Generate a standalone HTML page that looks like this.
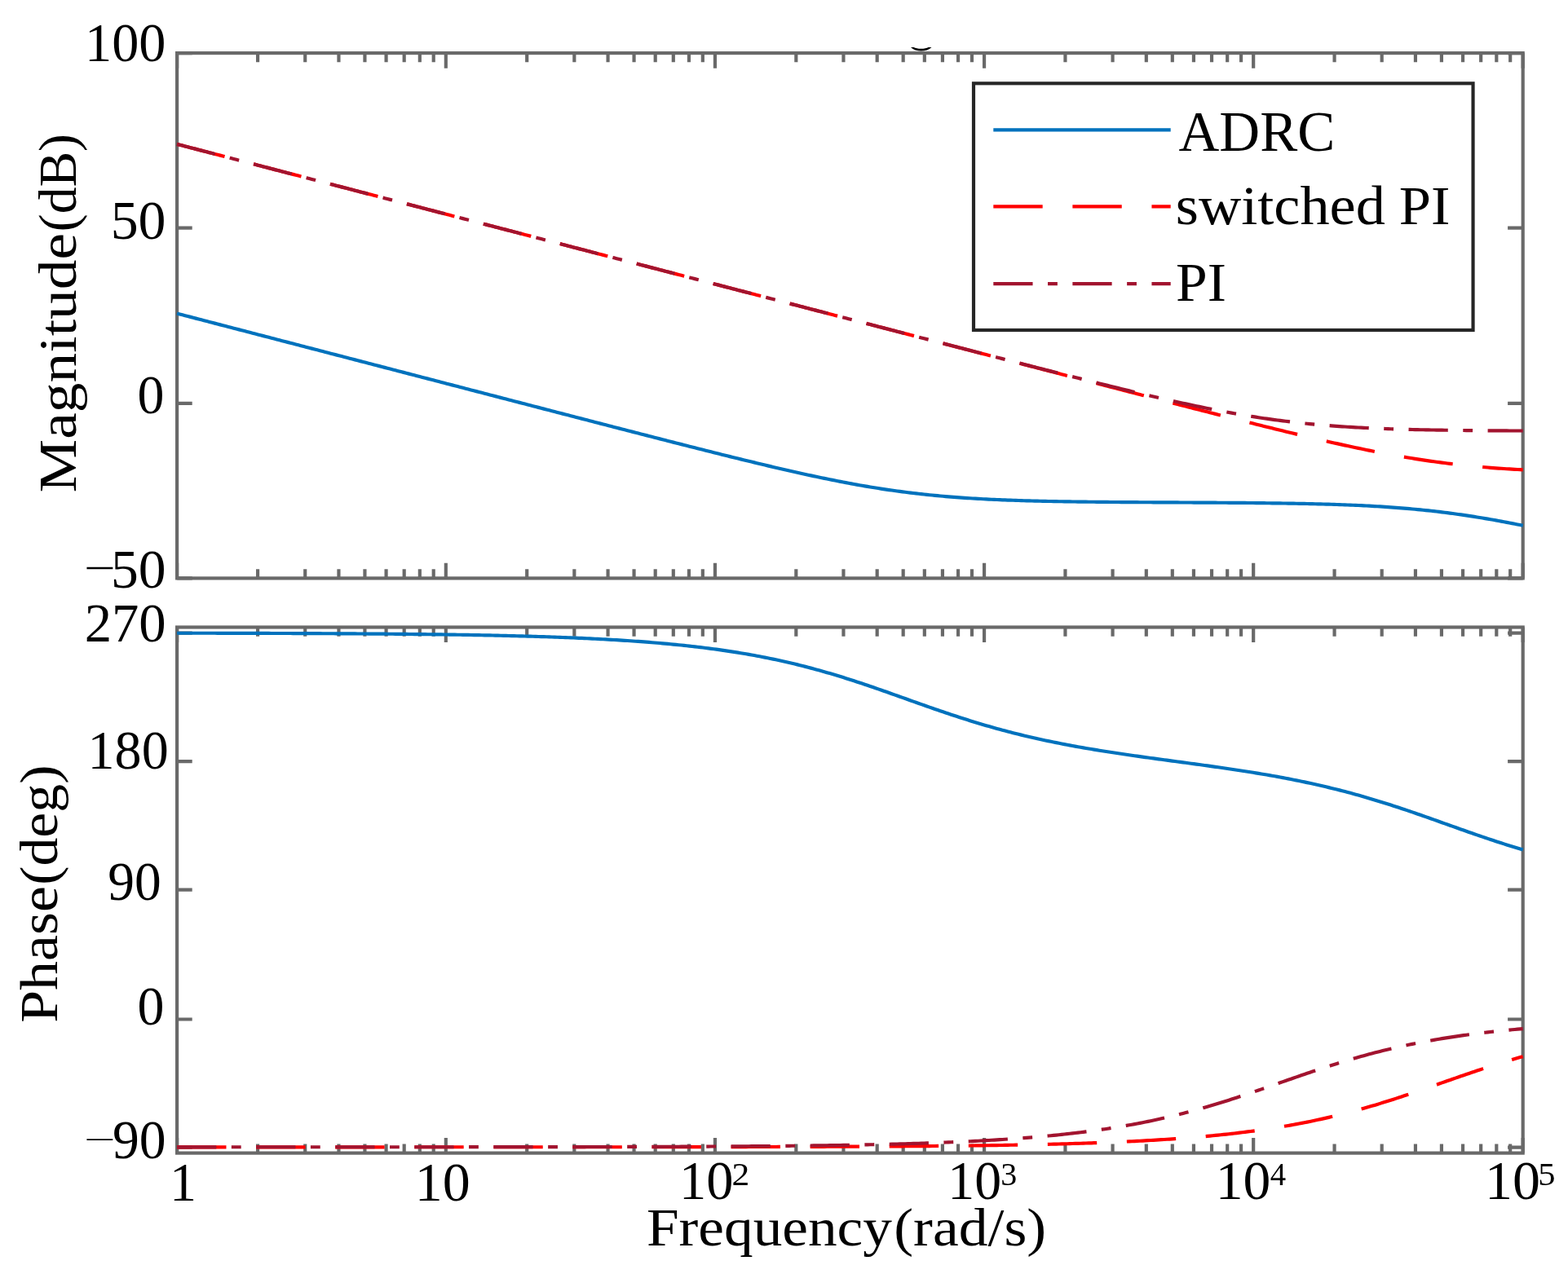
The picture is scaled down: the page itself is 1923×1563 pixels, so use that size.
<!DOCTYPE html>
<html lang="en"><head><meta charset="utf-8"><title>Bode plot</title>
<style>html,body{margin:0;padding:0;background:#fff}body{width:1923px;height:1563px;overflow:hidden}svg{display:block}text{font-family:"Liberation Serif","DejaVu Serif",serif;fill:#000}</style></head><body>
<svg width="1923" height="1563" viewBox="0 0 1923 1563">
<rect width="1923" height="1563" fill="#fff"/>
<path d="M1117,57.9 L1120.6,57.9 C1124.5,60.3 1134.8,60.3 1138.6,57.9 L1142.5,57.9 C1136.5,63.9 1123,63.9 1117,57.9 Z" fill="#000"/>
<g fill="none" stroke="#696969" stroke-width="4.17" stroke-linecap="butt">
<rect x="217.10" y="65.10" width="1650.60" height="644.30"/>
<path d="M217.10,65.10 v18.60 M217.10,709.40 v-18.60 M316.08,65.10 v11.20 M316.08,709.40 v-11.20 M374.21,65.10 v11.20 M374.21,709.40 v-11.20 M415.45,65.10 v11.20 M415.45,709.40 v-11.20 M447.44,65.10 v11.20 M447.44,709.40 v-11.20 M473.58,65.10 v11.20 M473.58,709.40 v-11.20 M495.68,65.10 v11.20 M495.68,709.40 v-11.20 M514.83,65.10 v11.20 M514.83,709.40 v-11.20 M531.71,65.10 v11.20 M531.71,709.40 v-11.20 M546.82,65.10 v18.60 M546.82,709.40 v-18.60 M646.20,65.10 v11.20 M646.20,709.40 v-11.20 M704.33,65.10 v11.20 M704.33,709.40 v-11.20 M745.57,65.10 v11.20 M745.57,709.40 v-11.20 M777.56,65.10 v11.20 M777.56,709.40 v-11.20 M803.70,65.10 v11.20 M803.70,709.40 v-11.20 M825.80,65.10 v11.20 M825.80,709.40 v-11.20 M844.95,65.10 v11.20 M844.95,709.40 v-11.20 M861.83,65.10 v11.20 M861.83,709.40 v-11.20 M876.94,65.10 v18.60 M876.94,709.40 v-18.60 M976.32,65.10 v11.20 M976.32,709.40 v-11.20 M1034.45,65.10 v11.20 M1034.45,709.40 v-11.20 M1075.69,65.10 v11.20 M1075.69,709.40 v-11.20 M1107.68,65.10 v11.20 M1107.68,709.40 v-11.20 M1133.82,65.10 v11.20 M1133.82,709.40 v-11.20 M1155.92,65.10 v11.20 M1155.92,709.40 v-11.20 M1175.07,65.10 v11.20 M1175.07,709.40 v-11.20 M1191.95,65.10 v11.20 M1191.95,709.40 v-11.20 M1207.06,65.10 v18.60 M1207.06,709.40 v-18.60 M1306.44,65.10 v11.20 M1306.44,709.40 v-11.20 M1364.57,65.10 v11.20 M1364.57,709.40 v-11.20 M1405.81,65.10 v11.20 M1405.81,709.40 v-11.20 M1437.80,65.10 v11.20 M1437.80,709.40 v-11.20 M1463.94,65.10 v11.20 M1463.94,709.40 v-11.20 M1486.04,65.10 v11.20 M1486.04,709.40 v-11.20 M1505.19,65.10 v11.20 M1505.19,709.40 v-11.20 M1522.07,65.10 v11.20 M1522.07,709.40 v-11.20 M1537.18,65.10 v18.60 M1537.18,709.40 v-18.60 M1636.56,65.10 v11.20 M1636.56,709.40 v-11.20 M1694.69,65.10 v11.20 M1694.69,709.40 v-11.20 M1735.93,65.10 v11.20 M1735.93,709.40 v-11.20 M1767.92,65.10 v11.20 M1767.92,709.40 v-11.20 M1794.06,65.10 v11.20 M1794.06,709.40 v-11.20 M1816.16,65.10 v11.20 M1816.16,709.40 v-11.20 M1835.31,65.10 v11.20 M1835.31,709.40 v-11.20 M1852.19,65.10 v11.20 M1852.19,709.40 v-11.20 M1867.70,65.10 v18.60 M1867.70,709.40 v-18.60 M217.10,65.10 h18.60 M1867.70,65.10 h-18.60 M217.10,279.60 h18.60 M1867.70,279.60 h-18.60 M217.10,494.90 h18.60 M1867.70,494.90 h-18.60 M217.10,709.40 h18.60 M1867.70,709.40 h-18.60"/>
</g>
<g fill="none" stroke="#696969" stroke-width="4.17" stroke-linecap="butt">
<rect x="217.10" y="769.50" width="1650.60" height="645.10"/>
<path d="M217.10,769.50 v18.60 M217.10,1414.60 v-18.60 M316.08,769.50 v11.20 M316.08,1414.60 v-11.20 M374.21,769.50 v11.20 M374.21,1414.60 v-11.20 M415.45,769.50 v11.20 M415.45,1414.60 v-11.20 M447.44,769.50 v11.20 M447.44,1414.60 v-11.20 M473.58,769.50 v11.20 M473.58,1414.60 v-11.20 M495.68,769.50 v11.20 M495.68,1414.60 v-11.20 M514.83,769.50 v11.20 M514.83,1414.60 v-11.20 M531.71,769.50 v11.20 M531.71,1414.60 v-11.20 M546.82,769.50 v18.60 M546.82,1414.60 v-18.60 M646.20,769.50 v11.20 M646.20,1414.60 v-11.20 M704.33,769.50 v11.20 M704.33,1414.60 v-11.20 M745.57,769.50 v11.20 M745.57,1414.60 v-11.20 M777.56,769.50 v11.20 M777.56,1414.60 v-11.20 M803.70,769.50 v11.20 M803.70,1414.60 v-11.20 M825.80,769.50 v11.20 M825.80,1414.60 v-11.20 M844.95,769.50 v11.20 M844.95,1414.60 v-11.20 M861.83,769.50 v11.20 M861.83,1414.60 v-11.20 M876.94,769.50 v18.60 M876.94,1414.60 v-18.60 M976.32,769.50 v11.20 M976.32,1414.60 v-11.20 M1034.45,769.50 v11.20 M1034.45,1414.60 v-11.20 M1075.69,769.50 v11.20 M1075.69,1414.60 v-11.20 M1107.68,769.50 v11.20 M1107.68,1414.60 v-11.20 M1133.82,769.50 v11.20 M1133.82,1414.60 v-11.20 M1155.92,769.50 v11.20 M1155.92,1414.60 v-11.20 M1175.07,769.50 v11.20 M1175.07,1414.60 v-11.20 M1191.95,769.50 v11.20 M1191.95,1414.60 v-11.20 M1207.06,769.50 v18.60 M1207.06,1414.60 v-18.60 M1306.44,769.50 v11.20 M1306.44,1414.60 v-11.20 M1364.57,769.50 v11.20 M1364.57,1414.60 v-11.20 M1405.81,769.50 v11.20 M1405.81,1414.60 v-11.20 M1437.80,769.50 v11.20 M1437.80,1414.60 v-11.20 M1463.94,769.50 v11.20 M1463.94,1414.60 v-11.20 M1486.04,769.50 v11.20 M1486.04,1414.60 v-11.20 M1505.19,769.50 v11.20 M1505.19,1414.60 v-11.20 M1522.07,769.50 v11.20 M1522.07,1414.60 v-11.20 M1537.18,769.50 v18.60 M1537.18,1414.60 v-18.60 M1636.56,769.50 v11.20 M1636.56,1414.60 v-11.20 M1694.69,769.50 v11.20 M1694.69,1414.60 v-11.20 M1735.93,769.50 v11.20 M1735.93,1414.60 v-11.20 M1767.92,769.50 v11.20 M1767.92,1414.60 v-11.20 M1794.06,769.50 v11.20 M1794.06,1414.60 v-11.20 M1816.16,769.50 v11.20 M1816.16,1414.60 v-11.20 M1835.31,769.50 v11.20 M1835.31,1414.60 v-11.20 M1852.19,769.50 v11.20 M1852.19,1414.60 v-11.20 M1867.70,769.50 v18.60 M1867.70,1414.60 v-18.60 M217.10,776.60 h18.60 M1867.70,776.60 h-18.60 M217.10,934.15 h18.60 M1867.70,934.15 h-18.60 M217.10,1091.70 h18.60 M1867.70,1091.70 h-18.60 M217.10,1250.50 h18.60 M1867.70,1250.50 h-18.60 M217.10,1407.55 h18.60 M1867.70,1407.55 h-18.60"/>
</g>
<g>
<path d="M217.10,384.58 L220.41,385.44 L223.72,386.31 L227.02,387.17 L230.33,388.03 L233.64,388.89 L236.95,389.75 L240.25,390.61 L243.56,391.47 L246.87,392.33 L250.18,393.19 L253.49,394.05 L256.79,394.91 L260.10,395.77 L263.41,396.63 L266.72,397.50 L270.03,398.36 L273.33,399.22 L276.64,400.08 L279.95,400.94 L283.26,401.80 L286.56,402.66 L289.87,403.52 L293.18,404.38 L296.49,405.24 L299.80,406.10 L303.10,406.96 L306.41,407.83 L309.72,408.69 L313.03,409.55 L316.33,410.41 L319.64,411.27 L322.95,412.13 L326.26,412.99 L329.57,413.85 L332.87,414.71 L336.18,415.57 L339.49,416.43 L342.80,417.29 L346.10,418.15 L349.41,419.02 L352.72,419.88 L356.03,420.74 L359.34,421.60 L362.64,422.46 L365.95,423.32 L369.26,424.18 L372.57,425.04 L375.88,425.90 L379.18,426.76 L382.49,427.62 L385.80,428.48 L389.11,429.34 L392.41,430.20 L395.72,431.07 L399.03,431.93 L402.34,432.79 L405.65,433.65 L408.95,434.51 L412.26,435.37 L415.57,436.23 L418.88,437.09 L422.18,437.95 L425.49,438.81 L428.80,439.67 L432.11,440.53 L435.42,441.39 L438.72,442.26 L442.03,443.12 L445.34,443.98 L448.65,444.84 L451.95,445.70 L455.26,446.56 L458.57,447.42 L461.88,448.28 L465.19,449.14 L468.49,450.00 L471.80,450.86 L475.11,451.72 L478.42,452.58 L481.73,453.44 L485.03,454.30 L488.34,455.17 L491.65,456.03 L494.96,456.89 L498.26,457.75 L501.57,458.61 L504.88,459.47 L508.19,460.33 L511.50,461.19 L514.80,462.05 L518.11,462.91 L521.42,463.77 L524.73,464.63 L528.03,465.49 L531.34,466.35 L534.65,467.21 L537.96,468.07 L541.27,468.93 L544.57,469.79 L547.88,470.66 L551.19,471.52 L554.50,472.38 L557.81,473.24 L561.11,474.10 L564.42,474.96 L567.73,475.82 L571.04,476.68 L574.34,477.54 L577.65,478.40 L580.96,479.26 L584.27,480.12 L587.58,480.98 L590.88,481.84 L594.19,482.70 L597.50,483.56 L600.81,484.42 L604.11,485.28 L607.42,486.14 L610.73,487.00 L614.04,487.86 L617.35,488.72 L620.65,489.58 L623.96,490.44 L627.27,491.30 L630.58,492.16 L633.88,493.02 L637.19,493.88 L640.50,494.74 L643.81,495.60 L647.12,496.46 L650.42,497.32 L653.73,498.18 L657.04,499.03 L660.35,499.89 L663.66,500.75 L666.96,501.61 L670.27,502.47 L673.58,503.33 L676.89,504.19 L680.19,505.05 L683.50,505.91 L686.81,506.76 L690.12,507.62 L693.43,508.48 L696.73,509.34 L700.04,510.20 L703.35,511.05 L706.66,511.91 L709.96,512.77 L713.27,513.63 L716.58,514.48 L719.89,515.34 L723.20,516.20 L726.50,517.05 L729.81,517.91 L733.12,518.77 L736.43,519.62 L739.73,520.48 L743.04,521.34 L746.35,522.19 L749.66,523.05 L752.97,523.90 L756.27,524.76 L759.58,525.61 L762.89,526.46 L766.20,527.32 L769.51,528.17 L772.81,529.02 L776.12,529.88 L779.43,530.73 L782.74,531.58 L786.04,532.43 L789.35,533.28 L792.66,534.13 L795.97,534.98 L799.28,535.83 L802.58,536.68 L805.89,537.53 L809.20,538.38 L812.51,539.23 L815.81,540.07 L819.12,540.92 L822.43,541.76 L825.74,542.61 L829.05,543.45 L832.35,544.30 L835.66,545.14 L838.97,545.98 L842.28,546.82 L845.58,547.66 L848.89,548.50 L852.20,549.34 L855.51,550.17 L858.82,551.01 L862.12,551.84 L865.43,552.68 L868.74,553.51 L872.05,554.34 L875.36,555.17 L878.66,556.00 L881.97,556.82 L885.28,557.65 L888.59,558.47 L891.89,559.29 L895.20,560.11 L898.51,560.93 L901.82,561.75 L905.13,562.56 L908.43,563.37 L911.74,564.18 L915.05,564.99 L918.36,565.79 L921.66,566.60 L924.97,567.40 L928.28,568.19 L931.59,568.99 L934.90,569.78 L938.20,570.57 L941.51,571.35 L944.82,572.14 L948.13,572.92 L951.44,573.69 L954.74,574.46 L958.05,575.23 L961.36,576.00 L964.67,576.76 L967.97,577.51 L971.28,578.26 L974.59,579.01 L977.90,579.75 L981.21,580.49 L984.51,581.23 L987.82,581.95 L991.13,582.68 L994.44,583.39 L997.74,584.10 L1001.05,584.81 L1004.36,585.51 L1007.67,586.20 L1010.98,586.89 L1014.28,587.57 L1017.59,588.25 L1020.90,588.91 L1024.21,589.57 L1027.51,590.23 L1030.82,590.87 L1034.13,591.51 L1037.44,592.14 L1040.75,592.77 L1044.05,593.38 L1047.36,593.99 L1050.67,594.59 L1053.98,595.18 L1057.29,595.76 L1060.59,596.33 L1063.90,596.89 L1067.21,597.45 L1070.52,597.99 L1073.82,598.53 L1077.13,599.06 L1080.44,599.57 L1083.75,600.08 L1087.06,600.58 L1090.36,601.07 L1093.67,601.55 L1096.98,602.01 L1100.29,602.47 L1103.59,602.92 L1106.90,603.36 L1110.21,603.79 L1113.52,604.21 L1116.83,604.62 L1120.13,605.02 L1123.44,605.41 L1126.75,605.79 L1130.06,606.16 L1133.36,606.52 L1136.67,606.87 L1139.98,607.21 L1143.29,607.54 L1146.60,607.86 L1149.90,608.18 L1153.21,608.48 L1156.52,608.77 L1159.83,609.06 L1163.14,609.34 L1166.44,609.61 L1169.75,609.87 L1173.06,610.12 L1176.37,610.36 L1179.67,610.60 L1182.98,610.83 L1186.29,611.05 L1189.60,611.26 L1192.91,611.46 L1196.21,611.66 L1199.52,611.85 L1202.83,612.04 L1206.14,612.22 L1209.44,612.39 L1212.75,612.56 L1216.06,612.72 L1219.37,612.87 L1222.68,613.02 L1225.98,613.16 L1229.29,613.30 L1232.60,613.43 L1235.91,613.55 L1239.22,613.68 L1242.52,613.79 L1245.83,613.91 L1249.14,614.01 L1252.45,614.12 L1255.75,614.22 L1259.06,614.31 L1262.37,614.41 L1265.68,614.50 L1268.99,614.58 L1272.29,614.66 L1275.60,614.74 L1278.91,614.82 L1282.22,614.89 L1285.52,614.96 L1288.83,615.02 L1292.14,615.09 L1295.45,615.15 L1298.76,615.21 L1302.06,615.26 L1305.37,615.32 L1308.68,615.37 L1311.99,615.42 L1315.29,615.47 L1318.60,615.51 L1321.91,615.55 L1325.22,615.60 L1328.53,615.64 L1331.83,615.68 L1335.14,615.71 L1338.45,615.75 L1341.76,615.78 L1345.07,615.82 L1348.37,615.85 L1351.68,615.88 L1354.99,615.91 L1358.30,615.94 L1361.60,615.97 L1364.91,615.99 L1368.22,616.02 L1371.53,616.04 L1374.84,616.07 L1378.14,616.09 L1381.45,616.11 L1384.76,616.13 L1388.07,616.15 L1391.37,616.17 L1394.68,616.19 L1397.99,616.21 L1401.30,616.23 L1404.61,616.25 L1407.91,616.27 L1411.22,616.29 L1414.53,616.30 L1417.84,616.32 L1421.14,616.34 L1424.45,616.36 L1427.76,616.37 L1431.07,616.39 L1434.38,616.40 L1437.68,616.42 L1440.99,616.44 L1444.30,616.45 L1447.61,616.47 L1450.92,616.49 L1454.22,616.50 L1457.53,616.52 L1460.84,616.53 L1464.15,616.55 L1467.45,616.57 L1470.76,616.59 L1474.07,616.60 L1477.38,616.62 L1480.69,616.64 L1483.99,616.66 L1487.30,616.68 L1490.61,616.70 L1493.92,616.72 L1497.22,616.74 L1500.53,616.76 L1503.84,616.78 L1507.15,616.80 L1510.46,616.83 L1513.76,616.85 L1517.07,616.87 L1520.38,616.90 L1523.69,616.93 L1526.99,616.95 L1530.30,616.98 L1533.61,617.01 L1536.92,617.04 L1540.23,617.08 L1543.53,617.11 L1546.84,617.14 L1550.15,617.18 L1553.46,617.22 L1556.77,617.26 L1560.07,617.30 L1563.38,617.34 L1566.69,617.38 L1570.00,617.43 L1573.30,617.48 L1576.61,617.53 L1579.92,617.58 L1583.23,617.63 L1586.54,617.69 L1589.84,617.75 L1593.15,617.81 L1596.46,617.87 L1599.77,617.94 L1603.07,618.01 L1606.38,618.08 L1609.69,618.16 L1613.00,618.24 L1616.31,618.32 L1619.61,618.41 L1622.92,618.49 L1626.23,618.59 L1629.54,618.68 L1632.85,618.78 L1636.15,618.89 L1639.46,619.00 L1642.77,619.11 L1646.08,619.23 L1649.38,619.35 L1652.69,619.48 L1656.00,619.61 L1659.31,619.75 L1662.62,619.89 L1665.92,620.04 L1669.23,620.20 L1672.54,620.36 L1675.85,620.52 L1679.15,620.70 L1682.46,620.88 L1685.77,621.06 L1689.08,621.26 L1692.39,621.45 L1695.69,621.66 L1699.00,621.88 L1702.31,622.10 L1705.62,622.33 L1708.92,622.56 L1712.23,622.81 L1715.54,623.06 L1718.85,623.32 L1722.16,623.59 L1725.46,623.87 L1728.77,624.16 L1732.08,624.46 L1735.39,624.76 L1738.70,625.08 L1742.00,625.40 L1745.31,625.73 L1748.62,626.08 L1751.93,626.43 L1755.23,626.79 L1758.54,627.16 L1761.85,627.54 L1765.16,627.93 L1768.47,628.33 L1771.77,628.74 L1775.08,629.17 L1778.39,629.60 L1781.70,630.04 L1785.00,630.49 L1788.31,630.95 L1791.62,631.42 L1794.93,631.90 L1798.24,632.39 L1801.54,632.89 L1804.85,633.40 L1808.16,633.92 L1811.47,634.44 L1814.77,634.98 L1818.08,635.53 L1821.39,636.08 L1824.70,636.65 L1828.01,637.22 L1831.31,637.80 L1834.62,638.40 L1837.93,639.00 L1841.24,639.60 L1844.55,640.22 L1847.85,640.84 L1851.16,641.48 L1854.47,642.12 L1857.78,642.76 L1861.08,643.42 L1864.39,644.08 L1867.70,644.75" fill="none" stroke="#0072BD" stroke-width="4.17" stroke-linejoin="round"/>
<path d="M217.10,176.87 L220.41,177.73 L223.72,178.59 L227.02,179.45 L230.33,180.31 L233.64,181.17 L236.95,182.03 L240.25,182.89 L243.56,183.75 L246.87,184.61 L250.18,185.48 L253.49,186.34 L256.79,187.20 L260.10,188.06 L263.41,188.92 L266.72,189.78 L270.03,190.64 L273.33,191.50 L276.64,192.36 L279.95,193.22 L283.26,194.08 L286.56,194.94 L289.87,195.80 L293.18,196.67 L296.49,197.53 L299.80,198.39 L303.10,199.25 L306.41,200.11 L309.72,200.97 L313.03,201.83 L316.33,202.69 L319.64,203.55 L322.95,204.41 L326.26,205.27 L329.57,206.13 L332.87,206.99 L336.18,207.86 L339.49,208.72 L342.80,209.58 L346.10,210.44 L349.41,211.30 L352.72,212.16 L356.03,213.02 L359.34,213.88 L362.64,214.74 L365.95,215.60 L369.26,216.46 L372.57,217.32 L375.88,218.18 L379.18,219.05 L382.49,219.91 L385.80,220.77 L389.11,221.63 L392.41,222.49 L395.72,223.35 L399.03,224.21 L402.34,225.07 L405.65,225.93 L408.95,226.79 L412.26,227.65 L415.57,228.51 L418.88,229.38 L422.18,230.24 L425.49,231.10 L428.80,231.96 L432.11,232.82 L435.42,233.68 L438.72,234.54 L442.03,235.40 L445.34,236.26 L448.65,237.12 L451.95,237.98 L455.26,238.84 L458.57,239.70 L461.88,240.57 L465.19,241.43 L468.49,242.29 L471.80,243.15 L475.11,244.01 L478.42,244.87 L481.73,245.73 L485.03,246.59 L488.34,247.45 L491.65,248.31 L494.96,249.17 L498.26,250.03 L501.57,250.89 L504.88,251.76 L508.19,252.62 L511.50,253.48 L514.80,254.34 L518.11,255.20 L521.42,256.06 L524.73,256.92 L528.03,257.78 L531.34,258.64 L534.65,259.50 L537.96,260.36 L541.27,261.22 L544.57,262.09 L547.88,262.95 L551.19,263.81 L554.50,264.67 L557.81,265.53 L561.11,266.39 L564.42,267.25 L567.73,268.11 L571.04,268.97 L574.34,269.83 L577.65,270.69 L580.96,271.55 L584.27,272.41 L587.58,273.28 L590.88,274.14 L594.19,275.00 L597.50,275.86 L600.81,276.72 L604.11,277.58 L607.42,278.44 L610.73,279.30 L614.04,280.16 L617.35,281.02 L620.65,281.88 L623.96,282.74 L627.27,283.60 L630.58,284.47 L633.88,285.33 L637.19,286.19 L640.50,287.05 L643.81,287.91 L647.12,288.77 L650.42,289.63 L653.73,290.49 L657.04,291.35 L660.35,292.21 L663.66,293.07 L666.96,293.93 L670.27,294.80 L673.58,295.66 L676.89,296.52 L680.19,297.38 L683.50,298.24 L686.81,299.10 L690.12,299.96 L693.43,300.82 L696.73,301.68 L700.04,302.54 L703.35,303.40 L706.66,304.26 L709.96,305.12 L713.27,305.99 L716.58,306.85 L719.89,307.71 L723.20,308.57 L726.50,309.43 L729.81,310.29 L733.12,311.15 L736.43,312.01 L739.73,312.87 L743.04,313.73 L746.35,314.59 L749.66,315.45 L752.97,316.31 L756.27,317.18 L759.58,318.04 L762.89,318.90 L766.20,319.76 L769.51,320.62 L772.81,321.48 L776.12,322.34 L779.43,323.20 L782.74,324.06 L786.04,324.92 L789.35,325.78 L792.66,326.64 L795.97,327.51 L799.28,328.37 L802.58,329.23 L805.89,330.09 L809.20,330.95 L812.51,331.81 L815.81,332.67 L819.12,333.53 L822.43,334.39 L825.74,335.25 L829.05,336.11 L832.35,336.97 L835.66,337.83 L838.97,338.70 L842.28,339.56 L845.58,340.42 L848.89,341.28 L852.20,342.14 L855.51,343.00 L858.82,343.86 L862.12,344.72 L865.43,345.58 L868.74,346.44 L872.05,347.30 L875.36,348.16 L878.66,349.02 L881.97,349.89 L885.28,350.75 L888.59,351.61 L891.89,352.47 L895.20,353.33 L898.51,354.19 L901.82,355.05 L905.13,355.91 L908.43,356.77 L911.74,357.63 L915.05,358.49 L918.36,359.35 L921.66,360.21 L924.97,361.08 L928.28,361.94 L931.59,362.80 L934.90,363.66 L938.20,364.52 L941.51,365.38 L944.82,366.24 L948.13,367.10 L951.44,367.96 L954.74,368.82 L958.05,369.68 L961.36,370.54 L964.67,371.41 L967.97,372.27 L971.28,373.13 L974.59,373.99 L977.90,374.85 L981.21,375.71 L984.51,376.57 L987.82,377.43 L991.13,378.29 L994.44,379.15 L997.74,380.01 L1001.05,380.87 L1004.36,381.73 L1007.67,382.60 L1010.98,383.46 L1014.28,384.32 L1017.59,385.18 L1020.90,386.04 L1024.21,386.90 L1027.51,387.76 L1030.82,388.62 L1034.13,389.48 L1037.44,390.34 L1040.75,391.20 L1044.05,392.06 L1047.36,392.92 L1050.67,393.78 L1053.98,394.65 L1057.29,395.51 L1060.59,396.37 L1063.90,397.23 L1067.21,398.09 L1070.52,398.95 L1073.82,399.81 L1077.13,400.67 L1080.44,401.53 L1083.75,402.39 L1087.06,403.25 L1090.36,404.11 L1093.67,404.97 L1096.98,405.84 L1100.29,406.70 L1103.59,407.56 L1106.90,408.42 L1110.21,409.28 L1113.52,410.14 L1116.83,411.00 L1120.13,411.86 L1123.44,412.72 L1126.75,413.58 L1130.06,414.44 L1133.36,415.30 L1136.67,416.16 L1139.98,417.02 L1143.29,417.88 L1146.60,418.75 L1149.90,419.61 L1153.21,420.47 L1156.52,421.33 L1159.83,422.19 L1163.14,423.05 L1166.44,423.91 L1169.75,424.77 L1173.06,425.63 L1176.37,426.49 L1179.67,427.35 L1182.98,428.21 L1186.29,429.07 L1189.60,429.93 L1192.91,430.79 L1196.21,431.65 L1199.52,432.51 L1202.83,433.38 L1206.14,434.24 L1209.44,435.10 L1212.75,435.96 L1216.06,436.82 L1219.37,437.68 L1222.68,438.54 L1225.98,439.40 L1229.29,440.26 L1232.60,441.12 L1235.91,441.98 L1239.22,442.84 L1242.52,443.70 L1245.83,444.56 L1249.14,445.42 L1252.45,446.28 L1255.75,447.14 L1259.06,448.00 L1262.37,448.86 L1265.68,449.72 L1268.99,450.58 L1272.29,451.44 L1275.60,452.30 L1278.91,453.16 L1282.22,454.02 L1285.52,454.88 L1288.83,455.74 L1292.14,456.60 L1295.45,457.46 L1298.76,458.32 L1302.06,459.18 L1305.37,460.04 L1308.68,460.90 L1311.99,461.76 L1315.29,462.62 L1318.60,463.47 L1321.91,464.33 L1325.22,465.19 L1328.53,466.05 L1331.83,466.91 L1335.14,467.77 L1338.45,468.63 L1341.76,469.49 L1345.07,470.35 L1348.37,471.20 L1351.68,472.06 L1354.99,472.92 L1358.30,473.78 L1361.60,474.64 L1364.91,475.49 L1368.22,476.35 L1371.53,477.21 L1374.84,478.07 L1378.14,478.92 L1381.45,479.78 L1384.76,480.64 L1388.07,481.49 L1391.37,482.35 L1394.68,483.21 L1397.99,484.06 L1401.30,484.92 L1404.61,485.77 L1407.91,486.63 L1411.22,487.48 L1414.53,488.34 L1417.84,489.19 L1421.14,490.05 L1424.45,490.90 L1427.76,491.76 L1431.07,492.61 L1434.38,493.46 L1437.68,494.31 L1440.99,495.17 L1444.30,496.02 L1447.61,496.87 L1450.92,497.72 L1454.22,498.57 L1457.53,499.42 L1460.84,500.27 L1464.15,501.12 L1467.45,501.97 L1470.76,502.81 L1474.07,503.66 L1477.38,504.51 L1480.69,505.35 L1483.99,506.20 L1487.30,507.04 L1490.61,507.89 L1493.92,508.73 L1497.22,509.57 L1500.53,510.41 L1503.84,511.25 L1507.15,512.09 L1510.46,512.93 L1513.76,513.77 L1517.07,514.60 L1520.38,515.44 L1523.69,516.27 L1526.99,517.11 L1530.30,517.94 L1533.61,518.77 L1536.92,519.60 L1540.23,520.42 L1543.53,521.25 L1546.84,522.07 L1550.15,522.90 L1553.46,523.72 L1556.77,524.54 L1560.07,525.35 L1563.38,526.17 L1566.69,526.98 L1570.00,527.79 L1573.30,528.60 L1576.61,529.41 L1579.92,530.21 L1583.23,531.01 L1586.54,531.81 L1589.84,532.61 L1593.15,533.40 L1596.46,534.19 L1599.77,534.98 L1603.07,535.76 L1606.38,536.55 L1609.69,537.32 L1613.00,538.10 L1616.31,538.87 L1619.61,539.63 L1622.92,540.40 L1626.23,541.16 L1629.54,541.91 L1632.85,542.66 L1636.15,543.41 L1639.46,544.15 L1642.77,544.88 L1646.08,545.61 L1649.38,546.34 L1652.69,547.06 L1656.00,547.77 L1659.31,548.48 L1662.62,549.19 L1665.92,549.88 L1669.23,550.58 L1672.54,551.26 L1675.85,551.94 L1679.15,552.61 L1682.46,553.28 L1685.77,553.93 L1689.08,554.58 L1692.39,555.23 L1695.69,555.86 L1699.00,556.49 L1702.31,557.11 L1705.62,557.72 L1708.92,558.32 L1712.23,558.92 L1715.54,559.51 L1718.85,560.08 L1722.16,560.65 L1725.46,561.21 L1728.77,561.76 L1732.08,562.30 L1735.39,562.84 L1738.70,563.36 L1742.00,563.87 L1745.31,564.38 L1748.62,564.87 L1751.93,565.35 L1755.23,565.83 L1758.54,566.29 L1761.85,566.75 L1765.16,567.19 L1768.47,567.63 L1771.77,568.05 L1775.08,568.47 L1778.39,568.87 L1781.70,569.27 L1785.00,569.65 L1788.31,570.03 L1791.62,570.40 L1794.93,570.75 L1798.24,571.10 L1801.54,571.44 L1804.85,571.76 L1808.16,572.08 L1811.47,572.39 L1814.77,572.69 L1818.08,572.98 L1821.39,573.26 L1824.70,573.54 L1828.01,573.80 L1831.31,574.06 L1834.62,574.31 L1837.93,574.55 L1841.24,574.78 L1844.55,575.01 L1847.85,575.22 L1851.16,575.43 L1854.47,575.64 L1857.78,575.83 L1861.08,576.02 L1864.39,576.20 L1867.70,576.38" fill="none" stroke="#FF0000" stroke-width="4.17" stroke-linejoin="round" stroke-dasharray="60.37 36.70"/>
<path d="M217.10,176.87 L220.41,177.73 L223.72,178.59 L227.02,179.45 L230.33,180.31 L233.64,181.17 L236.95,182.03 L240.25,182.89 L243.56,183.75 L246.87,184.61 L250.18,185.48 L253.49,186.34 L256.79,187.20 L260.10,188.06 L263.41,188.92 L266.72,189.78 L270.03,190.64 L273.33,191.50 L276.64,192.36 L279.95,193.22 L283.26,194.08 L286.56,194.94 L289.87,195.80 L293.18,196.67 L296.49,197.53 L299.80,198.39 L303.10,199.25 L306.41,200.11 L309.72,200.97 L313.03,201.83 L316.33,202.69 L319.64,203.55 L322.95,204.41 L326.26,205.27 L329.57,206.13 L332.87,206.99 L336.18,207.86 L339.49,208.72 L342.80,209.58 L346.10,210.44 L349.41,211.30 L352.72,212.16 L356.03,213.02 L359.34,213.88 L362.64,214.74 L365.95,215.60 L369.26,216.46 L372.57,217.32 L375.88,218.18 L379.18,219.05 L382.49,219.91 L385.80,220.77 L389.11,221.63 L392.41,222.49 L395.72,223.35 L399.03,224.21 L402.34,225.07 L405.65,225.93 L408.95,226.79 L412.26,227.65 L415.57,228.51 L418.88,229.38 L422.18,230.24 L425.49,231.10 L428.80,231.96 L432.11,232.82 L435.42,233.68 L438.72,234.54 L442.03,235.40 L445.34,236.26 L448.65,237.12 L451.95,237.98 L455.26,238.84 L458.57,239.70 L461.88,240.57 L465.19,241.43 L468.49,242.29 L471.80,243.15 L475.11,244.01 L478.42,244.87 L481.73,245.73 L485.03,246.59 L488.34,247.45 L491.65,248.31 L494.96,249.17 L498.26,250.03 L501.57,250.89 L504.88,251.76 L508.19,252.62 L511.50,253.48 L514.80,254.34 L518.11,255.20 L521.42,256.06 L524.73,256.92 L528.03,257.78 L531.34,258.64 L534.65,259.50 L537.96,260.36 L541.27,261.22 L544.57,262.09 L547.88,262.95 L551.19,263.81 L554.50,264.67 L557.81,265.53 L561.11,266.39 L564.42,267.25 L567.73,268.11 L571.04,268.97 L574.34,269.83 L577.65,270.69 L580.96,271.55 L584.27,272.41 L587.58,273.28 L590.88,274.14 L594.19,275.00 L597.50,275.86 L600.81,276.72 L604.11,277.58 L607.42,278.44 L610.73,279.30 L614.04,280.16 L617.35,281.02 L620.65,281.88 L623.96,282.74 L627.27,283.60 L630.58,284.47 L633.88,285.33 L637.19,286.19 L640.50,287.05 L643.81,287.91 L647.12,288.77 L650.42,289.63 L653.73,290.49 L657.04,291.35 L660.35,292.21 L663.66,293.07 L666.96,293.93 L670.27,294.80 L673.58,295.66 L676.89,296.52 L680.19,297.38 L683.50,298.24 L686.81,299.10 L690.12,299.96 L693.43,300.82 L696.73,301.68 L700.04,302.54 L703.35,303.40 L706.66,304.26 L709.96,305.12 L713.27,305.99 L716.58,306.85 L719.89,307.71 L723.20,308.57 L726.50,309.43 L729.81,310.29 L733.12,311.15 L736.43,312.01 L739.73,312.87 L743.04,313.73 L746.35,314.59 L749.66,315.45 L752.97,316.31 L756.27,317.18 L759.58,318.04 L762.89,318.90 L766.20,319.76 L769.51,320.62 L772.81,321.48 L776.12,322.34 L779.43,323.20 L782.74,324.06 L786.04,324.92 L789.35,325.78 L792.66,326.64 L795.97,327.50 L799.28,328.37 L802.58,329.23 L805.89,330.09 L809.20,330.95 L812.51,331.81 L815.81,332.67 L819.12,333.53 L822.43,334.39 L825.74,335.25 L829.05,336.11 L832.35,336.97 L835.66,337.83 L838.97,338.69 L842.28,339.56 L845.58,340.42 L848.89,341.28 L852.20,342.14 L855.51,343.00 L858.82,343.86 L862.12,344.72 L865.43,345.58 L868.74,346.44 L872.05,347.30 L875.36,348.16 L878.66,349.02 L881.97,349.88 L885.28,350.75 L888.59,351.61 L891.89,352.47 L895.20,353.33 L898.51,354.19 L901.82,355.05 L905.13,355.91 L908.43,356.77 L911.74,357.63 L915.05,358.49 L918.36,359.35 L921.66,360.21 L924.97,361.07 L928.28,361.93 L931.59,362.79 L934.90,363.66 L938.20,364.52 L941.51,365.38 L944.82,366.24 L948.13,367.10 L951.44,367.96 L954.74,368.82 L958.05,369.68 L961.36,370.54 L964.67,371.40 L967.97,372.26 L971.28,373.12 L974.59,373.98 L977.90,374.84 L981.21,375.70 L984.51,376.56 L987.82,377.43 L991.13,378.29 L994.44,379.15 L997.74,380.01 L1001.05,380.87 L1004.36,381.73 L1007.67,382.59 L1010.98,383.45 L1014.28,384.31 L1017.59,385.17 L1020.90,386.03 L1024.21,386.89 L1027.51,387.75 L1030.82,388.61 L1034.13,389.47 L1037.44,390.33 L1040.75,391.19 L1044.05,392.05 L1047.36,392.91 L1050.67,393.77 L1053.98,394.63 L1057.29,395.49 L1060.59,396.35 L1063.90,397.21 L1067.21,398.07 L1070.52,398.93 L1073.82,399.79 L1077.13,400.65 L1080.44,401.51 L1083.75,402.37 L1087.06,403.23 L1090.36,404.09 L1093.67,404.95 L1096.98,405.81 L1100.29,406.67 L1103.59,407.53 L1106.90,408.39 L1110.21,409.25 L1113.52,410.11 L1116.83,410.97 L1120.13,411.83 L1123.44,412.69 L1126.75,413.55 L1130.06,414.40 L1133.36,415.26 L1136.67,416.12 L1139.98,416.98 L1143.29,417.84 L1146.60,418.70 L1149.90,419.56 L1153.21,420.41 L1156.52,421.27 L1159.83,422.13 L1163.14,422.99 L1166.44,423.85 L1169.75,424.70 L1173.06,425.56 L1176.37,426.42 L1179.67,427.28 L1182.98,428.13 L1186.29,428.99 L1189.60,429.85 L1192.91,430.70 L1196.21,431.56 L1199.52,432.41 L1202.83,433.27 L1206.14,434.13 L1209.44,434.98 L1212.75,435.84 L1216.06,436.69 L1219.37,437.55 L1222.68,438.40 L1225.98,439.25 L1229.29,440.11 L1232.60,440.96 L1235.91,441.81 L1239.22,442.67 L1242.52,443.52 L1245.83,444.37 L1249.14,445.22 L1252.45,446.07 L1255.75,446.92 L1259.06,447.77 L1262.37,448.62 L1265.68,449.47 L1268.99,450.32 L1272.29,451.17 L1275.60,452.01 L1278.91,452.86 L1282.22,453.71 L1285.52,454.55 L1288.83,455.39 L1292.14,456.24 L1295.45,457.08 L1298.76,457.92 L1302.06,458.76 L1305.37,459.60 L1308.68,460.44 L1311.99,461.28 L1315.29,462.12 L1318.60,462.96 L1321.91,463.79 L1325.22,464.62 L1328.53,465.46 L1331.83,466.29 L1335.14,467.12 L1338.45,467.95 L1341.76,468.77 L1345.07,469.60 L1348.37,470.42 L1351.68,471.25 L1354.99,472.07 L1358.30,472.88 L1361.60,473.70 L1364.91,474.52 L1368.22,475.33 L1371.53,476.14 L1374.84,476.95 L1378.14,477.76 L1381.45,478.56 L1384.76,479.36 L1388.07,480.16 L1391.37,480.96 L1394.68,481.75 L1397.99,482.54 L1401.30,483.33 L1404.61,484.11 L1407.91,484.89 L1411.22,485.67 L1414.53,486.44 L1417.84,487.21 L1421.14,487.98 L1424.45,488.74 L1427.76,489.50 L1431.07,490.25 L1434.38,491.00 L1437.68,491.75 L1440.99,492.49 L1444.30,493.22 L1447.61,493.95 L1450.92,494.68 L1454.22,495.40 L1457.53,496.11 L1460.84,496.82 L1464.15,497.53 L1467.45,498.22 L1470.76,498.91 L1474.07,499.60 L1477.38,500.28 L1480.69,500.95 L1483.99,501.61 L1487.30,502.27 L1490.61,502.92 L1493.92,503.56 L1497.22,504.19 L1500.53,504.82 L1503.84,505.44 L1507.15,506.05 L1510.46,506.65 L1513.76,507.25 L1517.07,507.83 L1520.38,508.41 L1523.69,508.98 L1526.99,509.54 L1530.30,510.09 L1533.61,510.63 L1536.92,511.16 L1540.23,511.68 L1543.53,512.19 L1546.84,512.70 L1550.15,513.19 L1553.46,513.67 L1556.77,514.15 L1560.07,514.61 L1563.38,515.07 L1566.69,515.51 L1570.00,515.94 L1573.30,516.37 L1576.61,516.78 L1579.92,517.19 L1583.23,517.58 L1586.54,517.97 L1589.84,518.34 L1593.15,518.71 L1596.46,519.06 L1599.77,519.41 L1603.07,519.74 L1606.38,520.07 L1609.69,520.39 L1613.00,520.70 L1616.31,521.00 L1619.61,521.29 L1622.92,521.57 L1626.23,521.84 L1629.54,522.10 L1632.85,522.36 L1636.15,522.61 L1639.46,522.85 L1642.77,523.08 L1646.08,523.30 L1649.38,523.52 L1652.69,523.73 L1656.00,523.93 L1659.31,524.13 L1662.62,524.31 L1665.92,524.50 L1669.23,524.67 L1672.54,524.84 L1675.85,525.00 L1679.15,525.16 L1682.46,525.31 L1685.77,525.45 L1689.08,525.59 L1692.39,525.73 L1695.69,525.86 L1699.00,525.98 L1702.31,526.10 L1705.62,526.21 L1708.92,526.32 L1712.23,526.43 L1715.54,526.53 L1718.85,526.63 L1722.16,526.72 L1725.46,526.81 L1728.77,526.90 L1732.08,526.98 L1735.39,527.06 L1738.70,527.13 L1742.00,527.21 L1745.31,527.28 L1748.62,527.34 L1751.93,527.41 L1755.23,527.47 L1758.54,527.53 L1761.85,527.58 L1765.16,527.64 L1768.47,527.69 L1771.77,527.74 L1775.08,527.79 L1778.39,527.83 L1781.70,527.88 L1785.00,527.92 L1788.31,527.96 L1791.62,528.00 L1794.93,528.03 L1798.24,528.07 L1801.54,528.10 L1804.85,528.13 L1808.16,528.16 L1811.47,528.19 L1814.77,528.22 L1818.08,528.25 L1821.39,528.27 L1824.70,528.30 L1828.01,528.32 L1831.31,528.34 L1834.62,528.36 L1837.93,528.38 L1841.24,528.40 L1844.55,528.42 L1847.85,528.44 L1851.16,528.46 L1854.47,528.47 L1857.78,528.49 L1861.08,528.50 L1864.39,528.52 L1867.70,528.53" fill="none" stroke="#A2142F" stroke-width="4.17" stroke-linejoin="round" stroke-dasharray="48.24 18.50 11.83 18.50"/>
<path d="M217.10,776.71 L220.41,776.71 L223.72,776.72 L227.02,776.72 L230.33,776.73 L233.64,776.73 L236.95,776.74 L240.25,776.74 L243.56,776.75 L246.87,776.76 L250.18,776.76 L253.49,776.77 L256.79,776.77 L260.10,776.78 L263.41,776.79 L266.72,776.79 L270.03,776.80 L273.33,776.81 L276.64,776.81 L279.95,776.82 L283.26,776.83 L286.56,776.84 L289.87,776.84 L293.18,776.85 L296.49,776.86 L299.80,776.87 L303.10,776.88 L306.41,776.88 L309.72,776.89 L313.03,776.90 L316.33,776.91 L319.64,776.92 L322.95,776.93 L326.26,776.94 L329.57,776.95 L332.87,776.96 L336.18,776.97 L339.49,776.98 L342.80,776.99 L346.10,777.00 L349.41,777.02 L352.72,777.03 L356.03,777.04 L359.34,777.05 L362.64,777.07 L365.95,777.08 L369.26,777.09 L372.57,777.11 L375.88,777.12 L379.18,777.13 L382.49,777.15 L385.80,777.16 L389.11,777.18 L392.41,777.19 L395.72,777.21 L399.03,777.23 L402.34,777.24 L405.65,777.26 L408.95,777.28 L412.26,777.30 L415.57,777.32 L418.88,777.33 L422.18,777.35 L425.49,777.37 L428.80,777.39 L432.11,777.41 L435.42,777.44 L438.72,777.46 L442.03,777.48 L445.34,777.50 L448.65,777.53 L451.95,777.55 L455.26,777.57 L458.57,777.60 L461.88,777.62 L465.19,777.65 L468.49,777.68 L471.80,777.70 L475.11,777.73 L478.42,777.76 L481.73,777.79 L485.03,777.82 L488.34,777.85 L491.65,777.88 L494.96,777.91 L498.26,777.95 L501.57,777.98 L504.88,778.01 L508.19,778.05 L511.50,778.09 L514.80,778.12 L518.11,778.16 L521.42,778.20 L524.73,778.24 L528.03,778.28 L531.34,778.32 L534.65,778.36 L537.96,778.41 L541.27,778.45 L544.57,778.50 L547.88,778.54 L551.19,778.59 L554.50,778.64 L557.81,778.69 L561.11,778.74 L564.42,778.79 L567.73,778.84 L571.04,778.90 L574.34,778.95 L577.65,779.01 L580.96,779.07 L584.27,779.13 L587.58,779.19 L590.88,779.25 L594.19,779.32 L597.50,779.38 L600.81,779.45 L604.11,779.52 L607.42,779.59 L610.73,779.66 L614.04,779.74 L617.35,779.81 L620.65,779.89 L623.96,779.97 L627.27,780.05 L630.58,780.13 L633.88,780.21 L637.19,780.30 L640.50,780.39 L643.81,780.48 L647.12,780.57 L650.42,780.67 L653.73,780.76 L657.04,780.86 L660.35,780.96 L663.66,781.07 L666.96,781.18 L670.27,781.28 L673.58,781.40 L676.89,781.51 L680.19,781.63 L683.50,781.75 L686.81,781.87 L690.12,781.99 L693.43,782.12 L696.73,782.25 L700.04,782.38 L703.35,782.52 L706.66,782.66 L709.96,782.80 L713.27,782.95 L716.58,783.10 L719.89,783.25 L723.20,783.41 L726.50,783.57 L729.81,783.74 L733.12,783.91 L736.43,784.08 L739.73,784.25 L743.04,784.43 L746.35,784.62 L749.66,784.81 L752.97,785.00 L756.27,785.20 L759.58,785.40 L762.89,785.60 L766.20,785.82 L769.51,786.03 L772.81,786.25 L776.12,786.48 L779.43,786.71 L782.74,786.95 L786.04,787.19 L789.35,787.44 L792.66,787.69 L795.97,787.95 L799.28,788.21 L802.58,788.48 L805.89,788.76 L809.20,789.04 L812.51,789.33 L815.81,789.63 L819.12,789.93 L822.43,790.24 L825.74,790.56 L829.05,790.88 L832.35,791.21 L835.66,791.55 L838.97,791.90 L842.28,792.25 L845.58,792.61 L848.89,792.98 L852.20,793.36 L855.51,793.74 L858.82,794.14 L862.12,794.54 L865.43,794.95 L868.74,795.38 L872.05,795.81 L875.36,796.24 L878.66,796.69 L881.97,797.15 L885.28,797.62 L888.59,798.10 L891.89,798.59 L895.20,799.09 L898.51,799.60 L901.82,800.12 L905.13,800.65 L908.43,801.19 L911.74,801.74 L915.05,802.31 L918.36,802.88 L921.66,803.47 L924.97,804.07 L928.28,804.68 L931.59,805.30 L934.90,805.94 L938.20,806.59 L941.51,807.25 L944.82,807.92 L948.13,808.61 L951.44,809.31 L954.74,810.02 L958.05,810.74 L961.36,811.48 L964.67,812.23 L967.97,813.00 L971.28,813.78 L974.59,814.57 L977.90,815.37 L981.21,816.19 L984.51,817.03 L987.82,817.87 L991.13,818.73 L994.44,819.61 L997.74,820.49 L1001.05,821.39 L1004.36,822.31 L1007.67,823.23 L1010.98,824.17 L1014.28,825.13 L1017.59,826.09 L1020.90,827.07 L1024.21,828.06 L1027.51,829.06 L1030.82,830.08 L1034.13,831.10 L1037.44,832.14 L1040.75,833.19 L1044.05,834.25 L1047.36,835.32 L1050.67,836.40 L1053.98,837.49 L1057.29,838.59 L1060.59,839.70 L1063.90,840.82 L1067.21,841.95 L1070.52,843.08 L1073.82,844.22 L1077.13,845.36 L1080.44,846.52 L1083.75,847.67 L1087.06,848.84 L1090.36,850.00 L1093.67,851.17 L1096.98,852.35 L1100.29,853.52 L1103.59,854.70 L1106.90,855.88 L1110.21,857.06 L1113.52,858.24 L1116.83,859.42 L1120.13,860.60 L1123.44,861.78 L1126.75,862.95 L1130.06,864.12 L1133.36,865.29 L1136.67,866.45 L1139.98,867.61 L1143.29,868.77 L1146.60,869.92 L1149.90,871.06 L1153.21,872.20 L1156.52,873.33 L1159.83,874.45 L1163.14,875.56 L1166.44,876.67 L1169.75,877.77 L1173.06,878.85 L1176.37,879.93 L1179.67,881.00 L1182.98,882.06 L1186.29,883.11 L1189.60,884.14 L1192.91,885.17 L1196.21,886.18 L1199.52,887.19 L1202.83,888.18 L1206.14,889.16 L1209.44,890.13 L1212.75,891.09 L1216.06,892.03 L1219.37,892.97 L1222.68,893.89 L1225.98,894.80 L1229.29,895.69 L1232.60,896.58 L1235.91,897.45 L1239.22,898.31 L1242.52,899.16 L1245.83,899.99 L1249.14,900.82 L1252.45,901.63 L1255.75,902.43 L1259.06,903.22 L1262.37,904.00 L1265.68,904.76 L1268.99,905.52 L1272.29,906.26 L1275.60,906.99 L1278.91,907.71 L1282.22,908.42 L1285.52,909.13 L1288.83,909.81 L1292.14,910.49 L1295.45,911.16 L1298.76,911.82 L1302.06,912.47 L1305.37,913.12 L1308.68,913.75 L1311.99,914.37 L1315.29,914.98 L1318.60,915.59 L1321.91,916.19 L1325.22,916.78 L1328.53,917.36 L1331.83,917.93 L1335.14,918.50 L1338.45,919.06 L1341.76,919.61 L1345.07,920.15 L1348.37,920.69 L1351.68,921.22 L1354.99,921.75 L1358.30,922.27 L1361.60,922.78 L1364.91,923.29 L1368.22,923.80 L1371.53,924.29 L1374.84,924.79 L1378.14,925.28 L1381.45,925.76 L1384.76,926.25 L1388.07,926.72 L1391.37,927.20 L1394.68,927.67 L1397.99,928.13 L1401.30,928.60 L1404.61,929.06 L1407.91,929.52 L1411.22,929.97 L1414.53,930.43 L1417.84,930.88 L1421.14,931.33 L1424.45,931.78 L1427.76,932.23 L1431.07,932.68 L1434.38,933.12 L1437.68,933.57 L1440.99,934.02 L1444.30,934.46 L1447.61,934.91 L1450.92,935.35 L1454.22,935.80 L1457.53,936.25 L1460.84,936.70 L1464.15,937.15 L1467.45,937.60 L1470.76,938.05 L1474.07,938.51 L1477.38,938.96 L1480.69,939.42 L1483.99,939.88 L1487.30,940.35 L1490.61,940.82 L1493.92,941.29 L1497.22,941.76 L1500.53,942.24 L1503.84,942.72 L1507.15,943.21 L1510.46,943.70 L1513.76,944.19 L1517.07,944.69 L1520.38,945.20 L1523.69,945.71 L1526.99,946.22 L1530.30,946.74 L1533.61,947.27 L1536.92,947.80 L1540.23,948.34 L1543.53,948.89 L1546.84,949.44 L1550.15,950.00 L1553.46,950.57 L1556.77,951.14 L1560.07,951.73 L1563.38,952.32 L1566.69,952.91 L1570.00,953.52 L1573.30,954.14 L1576.61,954.76 L1579.92,955.39 L1583.23,956.04 L1586.54,956.69 L1589.84,957.35 L1593.15,958.02 L1596.46,958.70 L1599.77,959.39 L1603.07,960.10 L1606.38,960.81 L1609.69,961.53 L1613.00,962.27 L1616.31,963.01 L1619.61,963.77 L1622.92,964.53 L1626.23,965.31 L1629.54,966.10 L1632.85,966.91 L1636.15,967.72 L1639.46,968.55 L1642.77,969.39 L1646.08,970.24 L1649.38,971.10 L1652.69,971.97 L1656.00,972.86 L1659.31,973.76 L1662.62,974.67 L1665.92,975.59 L1669.23,976.53 L1672.54,977.47 L1675.85,978.43 L1679.15,979.40 L1682.46,980.39 L1685.77,981.38 L1689.08,982.39 L1692.39,983.40 L1695.69,984.43 L1699.00,985.47 L1702.31,986.52 L1705.62,987.58 L1708.92,988.65 L1712.23,989.73 L1715.54,990.82 L1718.85,991.92 L1722.16,993.02 L1725.46,994.14 L1728.77,995.26 L1732.08,996.39 L1735.39,997.53 L1738.70,998.67 L1742.00,999.82 L1745.31,1000.98 L1748.62,1002.14 L1751.93,1003.30 L1755.23,1004.47 L1758.54,1005.65 L1761.85,1006.82 L1765.16,1008.00 L1768.47,1009.18 L1771.77,1010.36 L1775.08,1011.54 L1778.39,1012.72 L1781.70,1013.90 L1785.00,1015.07 L1788.31,1016.25 L1791.62,1017.42 L1794.93,1018.59 L1798.24,1019.76 L1801.54,1020.92 L1804.85,1022.08 L1808.16,1023.23 L1811.47,1024.37 L1814.77,1025.51 L1818.08,1026.64 L1821.39,1027.77 L1824.70,1028.88 L1828.01,1029.99 L1831.31,1031.09 L1834.62,1032.18 L1837.93,1033.26 L1841.24,1034.33 L1844.55,1035.38 L1847.85,1036.43 L1851.16,1037.47 L1854.47,1038.49 L1857.78,1039.51 L1861.08,1040.51 L1864.39,1041.50 L1867.70,1042.47" fill="none" stroke="#0072BD" stroke-width="4.17" stroke-linejoin="round"/>
<path d="M217.10,1407.30 L220.41,1407.30 L223.72,1407.30 L227.02,1407.30 L230.33,1407.30 L233.64,1407.30 L236.95,1407.30 L240.25,1407.30 L243.56,1407.30 L246.87,1407.30 L250.18,1407.30 L253.49,1407.30 L256.79,1407.30 L260.10,1407.30 L263.41,1407.30 L266.72,1407.30 L270.03,1407.30 L273.33,1407.30 L276.64,1407.29 L279.95,1407.29 L283.26,1407.29 L286.56,1407.29 L289.87,1407.29 L293.18,1407.29 L296.49,1407.29 L299.80,1407.29 L303.10,1407.29 L306.41,1407.29 L309.72,1407.29 L313.03,1407.29 L316.33,1407.29 L319.64,1407.29 L322.95,1407.29 L326.26,1407.29 L329.57,1407.29 L332.87,1407.29 L336.18,1407.29 L339.49,1407.29 L342.80,1407.29 L346.10,1407.29 L349.41,1407.29 L352.72,1407.29 L356.03,1407.29 L359.34,1407.29 L362.64,1407.29 L365.95,1407.29 L369.26,1407.29 L372.57,1407.29 L375.88,1407.29 L379.18,1407.29 L382.49,1407.29 L385.80,1407.29 L389.11,1407.29 L392.41,1407.29 L395.72,1407.29 L399.03,1407.29 L402.34,1407.29 L405.65,1407.29 L408.95,1407.29 L412.26,1407.29 L415.57,1407.29 L418.88,1407.29 L422.18,1407.29 L425.49,1407.29 L428.80,1407.29 L432.11,1407.29 L435.42,1407.29 L438.72,1407.29 L442.03,1407.29 L445.34,1407.29 L448.65,1407.29 L451.95,1407.29 L455.26,1407.29 L458.57,1407.29 L461.88,1407.29 L465.19,1407.29 L468.49,1407.29 L471.80,1407.29 L475.11,1407.29 L478.42,1407.29 L481.73,1407.29 L485.03,1407.28 L488.34,1407.28 L491.65,1407.28 L494.96,1407.28 L498.26,1407.28 L501.57,1407.28 L504.88,1407.28 L508.19,1407.28 L511.50,1407.28 L514.80,1407.28 L518.11,1407.28 L521.42,1407.28 L524.73,1407.28 L528.03,1407.28 L531.34,1407.28 L534.65,1407.28 L537.96,1407.28 L541.27,1407.28 L544.57,1407.28 L547.88,1407.28 L551.19,1407.28 L554.50,1407.28 L557.81,1407.28 L561.11,1407.28 L564.42,1407.28 L567.73,1407.27 L571.04,1407.27 L574.34,1407.27 L577.65,1407.27 L580.96,1407.27 L584.27,1407.27 L587.58,1407.27 L590.88,1407.27 L594.19,1407.27 L597.50,1407.27 L600.81,1407.27 L604.11,1407.27 L607.42,1407.27 L610.73,1407.27 L614.04,1407.27 L617.35,1407.27 L620.65,1407.26 L623.96,1407.26 L627.27,1407.26 L630.58,1407.26 L633.88,1407.26 L637.19,1407.26 L640.50,1407.26 L643.81,1407.26 L647.12,1407.26 L650.42,1407.26 L653.73,1407.26 L657.04,1407.25 L660.35,1407.25 L663.66,1407.25 L666.96,1407.25 L670.27,1407.25 L673.58,1407.25 L676.89,1407.25 L680.19,1407.25 L683.50,1407.25 L686.81,1407.24 L690.12,1407.24 L693.43,1407.24 L696.73,1407.24 L700.04,1407.24 L703.35,1407.24 L706.66,1407.24 L709.96,1407.24 L713.27,1407.23 L716.58,1407.23 L719.89,1407.23 L723.20,1407.23 L726.50,1407.23 L729.81,1407.23 L733.12,1407.22 L736.43,1407.22 L739.73,1407.22 L743.04,1407.22 L746.35,1407.22 L749.66,1407.22 L752.97,1407.21 L756.27,1407.21 L759.58,1407.21 L762.89,1407.21 L766.20,1407.21 L769.51,1407.20 L772.81,1407.20 L776.12,1407.20 L779.43,1407.20 L782.74,1407.19 L786.04,1407.19 L789.35,1407.19 L792.66,1407.19 L795.97,1407.18 L799.28,1407.18 L802.58,1407.18 L805.89,1407.18 L809.20,1407.17 L812.51,1407.17 L815.81,1407.17 L819.12,1407.16 L822.43,1407.16 L825.74,1407.16 L829.05,1407.15 L832.35,1407.15 L835.66,1407.15 L838.97,1407.14 L842.28,1407.14 L845.58,1407.14 L848.89,1407.13 L852.20,1407.13 L855.51,1407.13 L858.82,1407.12 L862.12,1407.12 L865.43,1407.11 L868.74,1407.11 L872.05,1407.10 L875.36,1407.10 L878.66,1407.10 L881.97,1407.09 L885.28,1407.09 L888.59,1407.08 L891.89,1407.08 L895.20,1407.07 L898.51,1407.07 L901.82,1407.06 L905.13,1407.05 L908.43,1407.05 L911.74,1407.04 L915.05,1407.04 L918.36,1407.03 L921.66,1407.02 L924.97,1407.02 L928.28,1407.01 L931.59,1407.00 L934.90,1407.00 L938.20,1406.99 L941.51,1406.98 L944.82,1406.98 L948.13,1406.97 L951.44,1406.96 L954.74,1406.95 L958.05,1406.95 L961.36,1406.94 L964.67,1406.93 L967.97,1406.92 L971.28,1406.91 L974.59,1406.90 L977.90,1406.89 L981.21,1406.88 L984.51,1406.87 L987.82,1406.86 L991.13,1406.85 L994.44,1406.84 L997.74,1406.83 L1001.05,1406.82 L1004.36,1406.81 L1007.67,1406.80 L1010.98,1406.79 L1014.28,1406.78 L1017.59,1406.76 L1020.90,1406.75 L1024.21,1406.74 L1027.51,1406.73 L1030.82,1406.71 L1034.13,1406.70 L1037.44,1406.68 L1040.75,1406.67 L1044.05,1406.66 L1047.36,1406.64 L1050.67,1406.63 L1053.98,1406.61 L1057.29,1406.59 L1060.59,1406.58 L1063.90,1406.56 L1067.21,1406.54 L1070.52,1406.53 L1073.82,1406.51 L1077.13,1406.49 L1080.44,1406.47 L1083.75,1406.45 L1087.06,1406.43 L1090.36,1406.41 L1093.67,1406.39 L1096.98,1406.37 L1100.29,1406.35 L1103.59,1406.33 L1106.90,1406.30 L1110.21,1406.28 L1113.52,1406.26 L1116.83,1406.23 L1120.13,1406.21 L1123.44,1406.18 L1126.75,1406.15 L1130.06,1406.13 L1133.36,1406.10 L1136.67,1406.07 L1139.98,1406.04 L1143.29,1406.01 L1146.60,1405.98 L1149.90,1405.95 L1153.21,1405.92 L1156.52,1405.89 L1159.83,1405.86 L1163.14,1405.82 L1166.44,1405.79 L1169.75,1405.75 L1173.06,1405.72 L1176.37,1405.68 L1179.67,1405.64 L1182.98,1405.61 L1186.29,1405.57 L1189.60,1405.53 L1192.91,1405.48 L1196.21,1405.44 L1199.52,1405.40 L1202.83,1405.35 L1206.14,1405.31 L1209.44,1405.26 L1212.75,1405.21 L1216.06,1405.17 L1219.37,1405.12 L1222.68,1405.07 L1225.98,1405.01 L1229.29,1404.96 L1232.60,1404.91 L1235.91,1404.85 L1239.22,1404.79 L1242.52,1404.73 L1245.83,1404.67 L1249.14,1404.61 L1252.45,1404.55 L1255.75,1404.49 L1259.06,1404.42 L1262.37,1404.35 L1265.68,1404.29 L1268.99,1404.22 L1272.29,1404.14 L1275.60,1404.07 L1278.91,1403.99 L1282.22,1403.92 L1285.52,1403.84 L1288.83,1403.76 L1292.14,1403.68 L1295.45,1403.59 L1298.76,1403.50 L1302.06,1403.42 L1305.37,1403.33 L1308.68,1403.23 L1311.99,1403.14 L1315.29,1403.04 L1318.60,1402.94 L1321.91,1402.84 L1325.22,1402.74 L1328.53,1402.63 L1331.83,1402.52 L1335.14,1402.41 L1338.45,1402.30 L1341.76,1402.18 L1345.07,1402.06 L1348.37,1401.94 L1351.68,1401.81 L1354.99,1401.69 L1358.30,1401.55 L1361.60,1401.42 L1364.91,1401.28 L1368.22,1401.14 L1371.53,1401.00 L1374.84,1400.85 L1378.14,1400.70 L1381.45,1400.55 L1384.76,1400.39 L1388.07,1400.23 L1391.37,1400.07 L1394.68,1399.90 L1397.99,1399.73 L1401.30,1399.55 L1404.61,1399.37 L1407.91,1399.19 L1411.22,1399.00 L1414.53,1398.81 L1417.84,1398.61 L1421.14,1398.41 L1424.45,1398.20 L1427.76,1397.99 L1431.07,1397.77 L1434.38,1397.55 L1437.68,1397.33 L1440.99,1397.10 L1444.30,1396.86 L1447.61,1396.62 L1450.92,1396.37 L1454.22,1396.12 L1457.53,1395.86 L1460.84,1395.59 L1464.15,1395.32 L1467.45,1395.05 L1470.76,1394.76 L1474.07,1394.48 L1477.38,1394.18 L1480.69,1393.88 L1483.99,1393.57 L1487.30,1393.25 L1490.61,1392.93 L1493.92,1392.60 L1497.22,1392.26 L1500.53,1391.91 L1503.84,1391.56 L1507.15,1391.20 L1510.46,1390.83 L1513.76,1390.45 L1517.07,1390.07 L1520.38,1389.67 L1523.69,1389.27 L1526.99,1388.86 L1530.30,1388.44 L1533.61,1388.01 L1536.92,1387.57 L1540.23,1387.12 L1543.53,1386.66 L1546.84,1386.20 L1550.15,1385.72 L1553.46,1385.23 L1556.77,1384.73 L1560.07,1384.22 L1563.38,1383.70 L1566.69,1383.17 L1570.00,1382.63 L1573.30,1382.08 L1576.61,1381.52 L1579.92,1380.94 L1583.23,1380.36 L1586.54,1379.76 L1589.84,1379.15 L1593.15,1378.53 L1596.46,1377.89 L1599.77,1377.25 L1603.07,1376.59 L1606.38,1375.92 L1609.69,1375.23 L1613.00,1374.54 L1616.31,1373.83 L1619.61,1373.10 L1622.92,1372.37 L1626.23,1371.62 L1629.54,1370.86 L1632.85,1370.08 L1636.15,1369.29 L1639.46,1368.49 L1642.77,1367.67 L1646.08,1366.84 L1649.38,1366.00 L1652.69,1365.15 L1656.00,1364.28 L1659.31,1363.40 L1662.62,1362.50 L1665.92,1361.59 L1669.23,1360.67 L1672.54,1359.74 L1675.85,1358.79 L1679.15,1357.83 L1682.46,1356.86 L1685.77,1355.88 L1689.08,1354.88 L1692.39,1353.87 L1695.69,1352.86 L1699.00,1351.83 L1702.31,1350.79 L1705.62,1349.74 L1708.92,1348.68 L1712.23,1347.61 L1715.54,1346.53 L1718.85,1345.44 L1722.16,1344.34 L1725.46,1343.24 L1728.77,1342.12 L1732.08,1341.01 L1735.39,1339.88 L1738.70,1338.75 L1742.00,1337.61 L1745.31,1336.47 L1748.62,1335.33 L1751.93,1334.18 L1755.23,1333.03 L1758.54,1331.87 L1761.85,1330.71 L1765.16,1329.56 L1768.47,1328.40 L1771.77,1327.24 L1775.08,1326.08 L1778.39,1324.93 L1781.70,1323.77 L1785.00,1322.62 L1788.31,1321.47 L1791.62,1320.33 L1794.93,1319.19 L1798.24,1318.05 L1801.54,1316.92 L1804.85,1315.80 L1808.16,1314.68 L1811.47,1313.57 L1814.77,1312.46 L1818.08,1311.37 L1821.39,1310.28 L1824.70,1309.20 L1828.01,1308.13 L1831.31,1307.07 L1834.62,1306.02 L1837.93,1304.98 L1841.24,1303.95 L1844.55,1302.94 L1847.85,1301.93 L1851.16,1300.94 L1854.47,1299.95 L1857.78,1298.98 L1861.08,1298.03 L1864.39,1297.08 L1867.70,1296.15" fill="none" stroke="#FF0000" stroke-width="4.17" stroke-linejoin="round" stroke-dasharray="60.37 36.70"/>
<path d="M217.10,1407.29 L220.41,1407.29 L223.72,1407.29 L227.02,1407.29 L230.33,1407.29 L233.64,1407.29 L236.95,1407.29 L240.25,1407.29 L243.56,1407.29 L246.87,1407.29 L250.18,1407.29 L253.49,1407.29 L256.79,1407.29 L260.10,1407.29 L263.41,1407.29 L266.72,1407.29 L270.03,1407.29 L273.33,1407.29 L276.64,1407.29 L279.95,1407.29 L283.26,1407.29 L286.56,1407.28 L289.87,1407.28 L293.18,1407.28 L296.49,1407.28 L299.80,1407.28 L303.10,1407.28 L306.41,1407.28 L309.72,1407.28 L313.03,1407.28 L316.33,1407.28 L319.64,1407.28 L322.95,1407.28 L326.26,1407.28 L329.57,1407.28 L332.87,1407.28 L336.18,1407.28 L339.49,1407.28 L342.80,1407.28 L346.10,1407.28 L349.41,1407.28 L352.72,1407.28 L356.03,1407.28 L359.34,1407.28 L362.64,1407.28 L365.95,1407.28 L369.26,1407.27 L372.57,1407.27 L375.88,1407.27 L379.18,1407.27 L382.49,1407.27 L385.80,1407.27 L389.11,1407.27 L392.41,1407.27 L395.72,1407.27 L399.03,1407.27 L402.34,1407.27 L405.65,1407.27 L408.95,1407.27 L412.26,1407.27 L415.57,1407.27 L418.88,1407.27 L422.18,1407.26 L425.49,1407.26 L428.80,1407.26 L432.11,1407.26 L435.42,1407.26 L438.72,1407.26 L442.03,1407.26 L445.34,1407.26 L448.65,1407.26 L451.95,1407.26 L455.26,1407.26 L458.57,1407.25 L461.88,1407.25 L465.19,1407.25 L468.49,1407.25 L471.80,1407.25 L475.11,1407.25 L478.42,1407.25 L481.73,1407.25 L485.03,1407.25 L488.34,1407.24 L491.65,1407.24 L494.96,1407.24 L498.26,1407.24 L501.57,1407.24 L504.88,1407.24 L508.19,1407.24 L511.50,1407.24 L514.80,1407.23 L518.11,1407.23 L521.42,1407.23 L524.73,1407.23 L528.03,1407.23 L531.34,1407.23 L534.65,1407.22 L537.96,1407.22 L541.27,1407.22 L544.57,1407.22 L547.88,1407.22 L551.19,1407.22 L554.50,1407.21 L557.81,1407.21 L561.11,1407.21 L564.42,1407.21 L567.73,1407.21 L571.04,1407.20 L574.34,1407.20 L577.65,1407.20 L580.96,1407.20 L584.27,1407.19 L587.58,1407.19 L590.88,1407.19 L594.19,1407.19 L597.50,1407.18 L600.81,1407.18 L604.11,1407.18 L607.42,1407.18 L610.73,1407.17 L614.04,1407.17 L617.35,1407.17 L620.65,1407.16 L623.96,1407.16 L627.27,1407.16 L630.58,1407.15 L633.88,1407.15 L637.19,1407.15 L640.50,1407.14 L643.81,1407.14 L647.12,1407.14 L650.42,1407.13 L653.73,1407.13 L657.04,1407.13 L660.35,1407.12 L663.66,1407.12 L666.96,1407.11 L670.27,1407.11 L673.58,1407.10 L676.89,1407.10 L680.19,1407.09 L683.50,1407.09 L686.81,1407.09 L690.12,1407.08 L693.43,1407.08 L696.73,1407.07 L700.04,1407.06 L703.35,1407.06 L706.66,1407.05 L709.96,1407.05 L713.27,1407.04 L716.58,1407.04 L719.89,1407.03 L723.20,1407.02 L726.50,1407.02 L729.81,1407.01 L733.12,1407.00 L736.43,1407.00 L739.73,1406.99 L743.04,1406.98 L746.35,1406.98 L749.66,1406.97 L752.97,1406.96 L756.27,1406.95 L759.58,1406.94 L762.89,1406.94 L766.20,1406.93 L769.51,1406.92 L772.81,1406.91 L776.12,1406.90 L779.43,1406.89 L782.74,1406.88 L786.04,1406.87 L789.35,1406.86 L792.66,1406.85 L795.97,1406.84 L799.28,1406.83 L802.58,1406.82 L805.89,1406.81 L809.20,1406.80 L812.51,1406.79 L815.81,1406.78 L819.12,1406.76 L822.43,1406.75 L825.74,1406.74 L829.05,1406.72 L832.35,1406.71 L835.66,1406.70 L838.97,1406.68 L842.28,1406.67 L845.58,1406.65 L848.89,1406.64 L852.20,1406.62 L855.51,1406.61 L858.82,1406.59 L862.12,1406.58 L865.43,1406.56 L868.74,1406.54 L872.05,1406.52 L875.36,1406.51 L878.66,1406.49 L881.97,1406.47 L885.28,1406.45 L888.59,1406.43 L891.89,1406.41 L895.20,1406.39 L898.51,1406.37 L901.82,1406.35 L905.13,1406.32 L908.43,1406.30 L911.74,1406.28 L915.05,1406.25 L918.36,1406.23 L921.66,1406.20 L924.97,1406.18 L928.28,1406.15 L931.59,1406.13 L934.90,1406.10 L938.20,1406.07 L941.51,1406.04 L944.82,1406.01 L948.13,1405.98 L951.44,1405.95 L954.74,1405.92 L958.05,1405.89 L961.36,1405.85 L964.67,1405.82 L967.97,1405.79 L971.28,1405.75 L974.59,1405.72 L977.90,1405.68 L981.21,1405.64 L984.51,1405.60 L987.82,1405.56 L991.13,1405.52 L994.44,1405.48 L997.74,1405.44 L1001.05,1405.39 L1004.36,1405.35 L1007.67,1405.30 L1010.98,1405.26 L1014.28,1405.21 L1017.59,1405.16 L1020.90,1405.11 L1024.21,1405.06 L1027.51,1405.01 L1030.82,1404.96 L1034.13,1404.90 L1037.44,1404.85 L1040.75,1404.79 L1044.05,1404.73 L1047.36,1404.67 L1050.67,1404.61 L1053.98,1404.55 L1057.29,1404.48 L1060.59,1404.42 L1063.90,1404.35 L1067.21,1404.28 L1070.52,1404.21 L1073.82,1404.14 L1077.13,1404.06 L1080.44,1403.99 L1083.75,1403.91 L1087.06,1403.83 L1090.36,1403.75 L1093.67,1403.67 L1096.98,1403.58 L1100.29,1403.50 L1103.59,1403.41 L1106.90,1403.32 L1110.21,1403.22 L1113.52,1403.13 L1116.83,1403.03 L1120.13,1402.93 L1123.44,1402.83 L1126.75,1402.73 L1130.06,1402.62 L1133.36,1402.51 L1136.67,1402.40 L1139.98,1402.29 L1143.29,1402.17 L1146.60,1402.05 L1149.90,1401.93 L1153.21,1401.80 L1156.52,1401.67 L1159.83,1401.54 L1163.14,1401.41 L1166.44,1401.27 L1169.75,1401.13 L1173.06,1400.99 L1176.37,1400.84 L1179.67,1400.69 L1182.98,1400.54 L1186.29,1400.38 L1189.60,1400.22 L1192.91,1400.05 L1196.21,1399.89 L1199.52,1399.71 L1202.83,1399.54 L1206.14,1399.36 L1209.44,1399.17 L1212.75,1398.98 L1216.06,1398.79 L1219.37,1398.59 L1222.68,1398.39 L1225.98,1398.18 L1229.29,1397.97 L1232.60,1397.76 L1235.91,1397.53 L1239.22,1397.31 L1242.52,1397.08 L1245.83,1396.84 L1249.14,1396.60 L1252.45,1396.35 L1255.75,1396.10 L1259.06,1395.84 L1262.37,1395.57 L1265.68,1395.30 L1268.99,1395.02 L1272.29,1394.74 L1275.60,1394.45 L1278.91,1394.15 L1282.22,1393.85 L1285.52,1393.54 L1288.83,1393.22 L1292.14,1392.90 L1295.45,1392.57 L1298.76,1392.23 L1302.06,1391.88 L1305.37,1391.53 L1308.68,1391.17 L1311.99,1390.80 L1315.29,1390.42 L1318.60,1390.03 L1321.91,1389.64 L1325.22,1389.24 L1328.53,1388.82 L1331.83,1388.40 L1335.14,1387.97 L1338.45,1387.53 L1341.76,1387.08 L1345.07,1386.62 L1348.37,1386.16 L1351.68,1385.68 L1354.99,1385.19 L1358.30,1384.69 L1361.60,1384.18 L1364.91,1383.66 L1368.22,1383.13 L1371.53,1382.59 L1374.84,1382.03 L1378.14,1381.47 L1381.45,1380.89 L1384.76,1380.31 L1388.07,1379.71 L1391.37,1379.10 L1394.68,1378.47 L1397.99,1377.84 L1401.30,1377.19 L1404.61,1376.53 L1407.91,1375.86 L1411.22,1375.17 L1414.53,1374.47 L1417.84,1373.76 L1421.14,1373.04 L1424.45,1372.30 L1427.76,1371.55 L1431.07,1370.79 L1434.38,1370.01 L1437.68,1369.22 L1440.99,1368.42 L1444.30,1367.60 L1447.61,1366.77 L1450.92,1365.93 L1454.22,1365.07 L1457.53,1364.20 L1460.84,1363.32 L1464.15,1362.42 L1467.45,1361.51 L1470.76,1360.59 L1474.07,1359.66 L1477.38,1358.71 L1480.69,1357.75 L1483.99,1356.78 L1487.30,1355.79 L1490.61,1354.80 L1493.92,1353.79 L1497.22,1352.77 L1500.53,1351.74 L1503.84,1350.70 L1507.15,1349.65 L1510.46,1348.58 L1513.76,1347.51 L1517.07,1346.43 L1520.38,1345.34 L1523.69,1344.25 L1526.99,1343.14 L1530.30,1342.03 L1533.61,1340.91 L1536.92,1339.78 L1540.23,1338.65 L1543.53,1337.52 L1546.84,1336.37 L1550.15,1335.23 L1553.46,1334.08 L1556.77,1332.93 L1560.07,1331.77 L1563.38,1330.62 L1566.69,1329.46 L1570.00,1328.30 L1573.30,1327.14 L1576.61,1325.99 L1579.92,1324.83 L1583.23,1323.67 L1586.54,1322.52 L1589.84,1321.38 L1593.15,1320.23 L1596.46,1319.09 L1599.77,1317.95 L1603.07,1316.82 L1606.38,1315.70 L1609.69,1314.58 L1613.00,1313.47 L1616.31,1312.37 L1619.61,1311.27 L1622.92,1310.19 L1626.23,1309.11 L1629.54,1308.04 L1632.85,1306.98 L1636.15,1305.93 L1639.46,1304.89 L1642.77,1303.87 L1646.08,1302.85 L1649.38,1301.85 L1652.69,1300.85 L1656.00,1299.87 L1659.31,1298.90 L1662.62,1297.94 L1665.92,1297.00 L1669.23,1296.07 L1672.54,1295.15 L1675.85,1294.24 L1679.15,1293.35 L1682.46,1292.47 L1685.77,1291.60 L1689.08,1290.75 L1692.39,1289.91 L1695.69,1289.08 L1699.00,1288.27 L1702.31,1287.47 L1705.62,1286.68 L1708.92,1285.91 L1712.23,1285.15 L1715.54,1284.40 L1718.85,1283.67 L1722.16,1282.95 L1725.46,1282.24 L1728.77,1281.55 L1732.08,1280.87 L1735.39,1280.20 L1738.70,1279.54 L1742.00,1278.90 L1745.31,1278.26 L1748.62,1277.64 L1751.93,1277.04 L1755.23,1276.44 L1758.54,1275.86 L1761.85,1275.28 L1765.16,1274.72 L1768.47,1274.17 L1771.77,1273.63 L1775.08,1273.10 L1778.39,1272.59 L1781.70,1272.08 L1785.00,1271.58 L1788.31,1271.10 L1791.62,1270.62 L1794.93,1270.16 L1798.24,1269.70 L1801.54,1269.25 L1804.85,1268.82 L1808.16,1268.39 L1811.47,1267.97 L1814.77,1267.56 L1818.08,1267.16 L1821.39,1266.76 L1824.70,1266.38 L1828.01,1266.00 L1831.31,1265.64 L1834.62,1265.28 L1837.93,1264.93 L1841.24,1264.58 L1844.55,1264.24 L1847.85,1263.91 L1851.16,1263.59 L1854.47,1263.28 L1857.78,1262.97 L1861.08,1262.67 L1864.39,1262.37 L1867.70,1262.08" fill="none" stroke="#A2142F" stroke-width="4.17" stroke-linejoin="round" stroke-dasharray="48.24 18.50 11.83 18.50"/>
</g>
<rect x="1194" y="102.3" width="612.55" height="302.70" fill="#fff" stroke="#262626" stroke-width="4.17"/>
<path d="M1218.3,159.35 H1435.7" stroke="#0072BD" stroke-width="4.17" fill="none"/>
<path d="M1218.3,253.4 H1435.7" stroke="#FF0000" stroke-width="4.17" fill="none" stroke-dasharray="60.37 36.70"/>
<path d="M1218.3,348.1 H1435.7" stroke="#A2142F" stroke-width="4.17" fill="none" stroke-dasharray="48.24 18.50 11.83 18.50"/>
<text y="75.20" font-size="68.40"><tspan x="104.10" font-size="68.40" textLength="99.38" lengthAdjust="spacingAndGlyphs">100</tspan></text>
<text y="293.40" font-size="68.40"><tspan x="135.70" font-size="68.40" textLength="67.85" lengthAdjust="spacingAndGlyphs">50</tspan></text>
<text y="507.00" font-size="68.40"><tspan x="168.43" font-size="68.40" textLength="32.94" lengthAdjust="spacingAndGlyphs">0</tspan></text>
<text y="721.30" font-size="48.00"><tspan x="102.67" dy="-8.36" font-size="48.00" textLength="38.69" lengthAdjust="spacingAndGlyphs">−</tspan><tspan x="135.91" dy="8.36" font-size="68.40" textLength="67.62" lengthAdjust="spacingAndGlyphs">50</tspan></text>
<text y="786.60" font-size="68.40"><tspan x="103.70" font-size="68.40" textLength="100.00" lengthAdjust="spacingAndGlyphs">270</tspan></text>
<text y="942.50" font-size="68.40"><tspan x="107.62" font-size="68.40" textLength="99.05" lengthAdjust="spacingAndGlyphs">180</tspan></text>
<text y="1104.30" font-size="68.40"><tspan x="132.17" font-size="68.40" textLength="65.48" lengthAdjust="spacingAndGlyphs">90</tspan></text>
<text y="1257.30" font-size="68.40"><tspan x="168.43" font-size="68.40" textLength="32.94" lengthAdjust="spacingAndGlyphs">0</tspan></text>
<text y="1421.40" font-size="36.00"><tspan x="102.67" dy="-11.85" font-size="36.00" textLength="38.69" lengthAdjust="spacingAndGlyphs">−</tspan><tspan x="138.07" dy="11.85" font-size="68.40" textLength="65.59" lengthAdjust="spacingAndGlyphs">90</tspan></text>
<text y="1472.50" font-size="68.40"><tspan x="208.12" font-size="68.40" textLength="33.05" lengthAdjust="spacingAndGlyphs">1</tspan></text>
<text y="1472.50" font-size="68.40"><tspan x="508.75" font-size="68.40" textLength="68.00" lengthAdjust="spacingAndGlyphs">10</tspan></text>
<text y="1470.60" font-size="68.40"><tspan x="833.09" font-size="68.40" textLength="66.40" lengthAdjust="spacingAndGlyphs">10</tspan><tspan x="897.64" dy="-16.80" font-size="40.50" textLength="21.75" lengthAdjust="spacingAndGlyphs">2</tspan></text>
<text y="1470.60" font-size="68.40"><tspan x="1162.24" font-size="68.40" textLength="65.83" lengthAdjust="spacingAndGlyphs">10</tspan><tspan x="1227.30" dy="-16.80" font-size="40.50" textLength="20.00" lengthAdjust="spacingAndGlyphs">3</tspan></text>
<text y="1470.60" font-size="68.40"><tspan x="1490.68" font-size="68.40" textLength="67.66" lengthAdjust="spacingAndGlyphs">10</tspan><tspan x="1557.63" dy="-16.80" font-size="40.50" textLength="19.35" lengthAdjust="spacingAndGlyphs">4</tspan></text>
<text y="1470.60" font-size="68.40"><tspan x="1821.05" font-size="68.40" textLength="68.00" lengthAdjust="spacingAndGlyphs">10</tspan><tspan x="1886.16" dy="-16.80" font-size="40.50" textLength="21.24" lengthAdjust="spacingAndGlyphs">5</tspan></text>
<text transform="translate(93.10,0) rotate(-90)" y="0" font-size="65.60"><tspan x="-604.20" font-size="65.60" textLength="318.40" lengthAdjust="spacingAndGlyphs">Magnitude</tspan><tspan x="-284.14" font-size="65.60" textLength="119.96" lengthAdjust="spacingAndGlyphs">(dB)</tspan></text>
<text transform="translate(69.90,0) rotate(-90)" y="0" font-size="65.60"><tspan x="-1254.86" font-size="65.60" textLength="167.63" lengthAdjust="spacingAndGlyphs">Phase</tspan><tspan x="-1085.84" font-size="65.60" textLength="147.40" lengthAdjust="spacingAndGlyphs">(deg)</tspan></text>
<text y="1527.90" font-size="65.80"><tspan x="792.96" font-size="65.80" textLength="300.95" lengthAdjust="spacingAndGlyphs">Frequency</tspan><tspan x="1096.28" font-size="65.80" textLength="186.86" lengthAdjust="spacingAndGlyphs">(rad/s)</tspan></text>
<text y="184.90" font-size="68.80"><tspan x="1445.51" font-size="68.80" textLength="191.77" lengthAdjust="spacingAndGlyphs">ADRC</tspan></text>
<text y="275.00" font-size="67.00"><tspan x="1441.81" font-size="67.00" textLength="257.08" lengthAdjust="spacingAndGlyphs">switched</tspan> <tspan x="1715.78" font-size="66.60" textLength="62.70" lengthAdjust="spacingAndGlyphs">PI</tspan></text>
<text y="369.00" font-size="67.00"><tspan x="1442.01" font-size="67.00" textLength="61.84" lengthAdjust="spacingAndGlyphs">PI</tspan></text>
</svg></body></html>
